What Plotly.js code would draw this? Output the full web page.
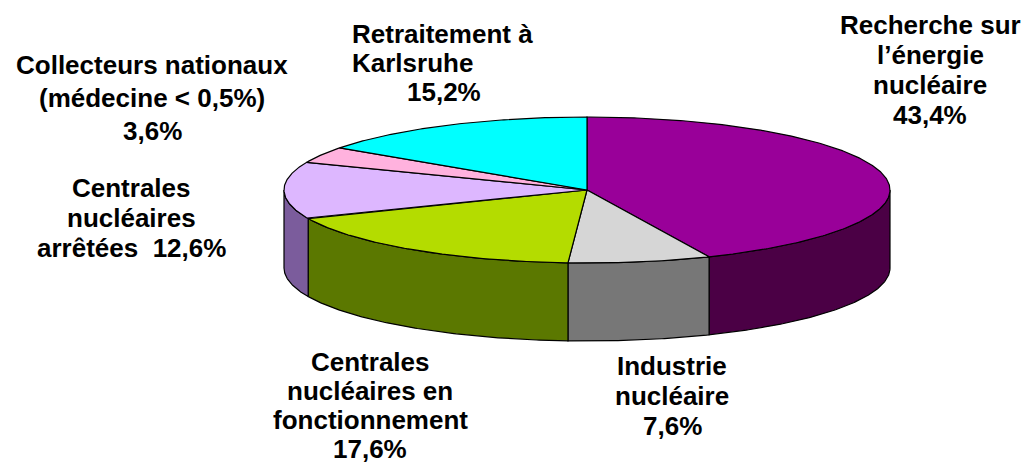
<!DOCTYPE html>
<html>
<head>
<meta charset="utf-8">
<script src="https://cdn.plot.ly/plotly-3.0.1.min.js"></script>
<style>html,body{margin:0;padding:0;background:#fff;}#chart{width:1031px;height:465px;}</style>
</head>
<body>
<div id="chart"></div>
<script>
// ---- data ----
const categories = [
  "Recherche sur l’énergie nucléaire",
  "Industrie nucléaire",
  "Centrales nucléaires en fonctionnement",
  "Centrales nucléaires arrêtées",
  "Collecteurs nationaux (médecine < 0,5%)",
  "Retraitement à Karlsruhe"
];
const shares = [43.4, 7.6, 17.6, 12.6, 3.6, 15.2];
const topColors  = ["#990099", "#D6D6D6", "#B4DC00", "#DDB7FF", "#FFB2DE", "#00FFFF"];
const sideColors = ["#4B0045", "#777777", "#5B7800", "#7B5C9C", "#7F5870", "#008080"];
// label text lines (percentage appended from shares)
const labelLines = [
  ["Recherche sur", "l’énergie", "nucléaire"],
  ["Industrie", "nucléaire"],
  ["Centrales", "nucléaires en", "fonctionnement"],
  ["Centrales", "nucléaires", "arrêtées\u00a0 "],
  ["Collecteurs nationaux", "(médecine < 0,5%)"],
  ["Retraitement à", "Karlsruhe"]
];

// ---- geometry / layout settings ----
const W = 1031, H = 465;
const cx = 587, cy = 190, rx = 303, ry = 73, depth = 78;
const fontSize = 26;
// label placement: [x, first line y, line step, anchor, pct on own line?]
const labelPos = [
  {x: 930, y: 25, step: 30, anchor: "center", pctOwn: true},
  {x: 672, y: 366, step: 30, anchor: "center", pctOwn: true},
  {x: 370, y: 362, step: 29, anchor: "center", pctOwn: true},
  {x: 131, y: 188, step: 30, anchor: "center", pctOwn: false},
  {x: 152, y: 65, step: 33, anchor: "center", pctOwn: true},
  {x: 350, y: 34, step: 29, anchor: "left", pctOwn: true, pctX: 444}
];

function pt(t, dy) {
  return [cx + rx * Math.sin(t), cy - ry * Math.cos(t) + (dy || 0)];
}
function arc(a0, a1, dy) {
  const pts = [];
  const n = Math.max(2, Math.ceil(Math.abs(a1 - a0) / (Math.PI / 360)));
  for (let k = 0; k <= n; k++) pts.push(pt(a0 + (a1 - a0) * k / n, dy));
  return pts;
}

const traces = [];
const tops = [];
let cum = 0;
const total = shares.reduce((s, v) => s + v, 0);
shares.forEach((v, i) => {
  const a0 = cum / total * 2 * Math.PI;
  cum += v;
  const a1 = cum / total * 2 * Math.PI;
  // visible front wall
  const w0 = Math.max(a0, Math.PI / 2), w1 = Math.min(a1, 3 * Math.PI / 2);
  if (w0 < w1) {
    const pts = arc(w0, w1, 0).concat(arc(w1, w0, depth));
    pts.push(pts[0]);
    traces.push({
      type: "scatter", mode: "lines", fill: "toself",
      x: pts.map(p => p[0]), y: pts.map(p => p[1]),
      fillcolor: sideColors[i], line: {color: "#000", width: 1.2},
      hoverinfo: "skip", showlegend: false, name: categories[i]
    });
  }
  // top face
  const pts = [[cx, cy]].concat(arc(a0, a1, 0));
  pts.push([cx, cy]);
  tops.push({
    type: "scatter", mode: "lines", fill: "toself",
    x: pts.map(p => p[0]), y: pts.map(p => p[1]),
    fillcolor: topColors[i], line: {color: "#000", width: 1.2},
    hoverinfo: "skip", showlegend: false, name: categories[i]
  });
});

const annotations = [];
labelLines.forEach((lines, i) => {
  const pos = labelPos[i];
  const pct = shares[i].toFixed(1).replace(".", ",") + "%";
  let all = lines.slice();
  if (pos.pctOwn) all.push(pct); else all[all.length - 1] = all[all.length - 1] + pct;
  all.forEach((t, k) => {
    const isPct = pos.pctOwn && k === all.length - 1;
    const left = pos.anchor === "left" && !(isPct && pos.pctX);
    annotations.push({
      x: isPct && pos.pctX ? pos.pctX : pos.x,
      y: pos.y + k * pos.step,
      xref: "x", yref: "y", showarrow: false,
      text: t,
      xanchor: left ? "left" : "center", yanchor: "middle",
      font: {family: "Liberation Sans, Arial, sans-serif", size: fontSize, color: "#000", weight: "bold"}
    });
  });
});

const layout = {
  width: W, height: H,
  margin: {l: 0, r: 0, t: 0, b: 0},
  paper_bgcolor: "#fff", plot_bgcolor: "#fff",
  xaxis: {range: [0, W], visible: false, fixedrange: true},
  yaxis: {range: [H, 0], visible: false, fixedrange: true},
  annotations: annotations,
  showlegend: false
};
Plotly.newPlot("chart", traces.concat(tops), layout, {staticPlot: true, displayModeBar: false});
</script>
</body>
</html>
